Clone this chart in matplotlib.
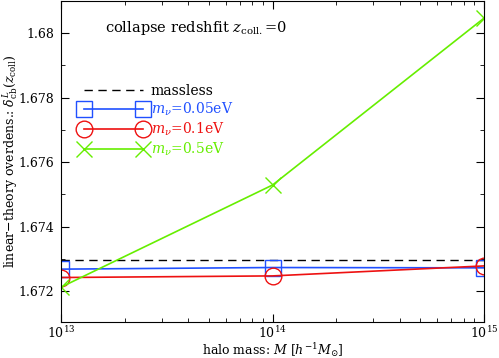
import matplotlib
matplotlib.use("Agg")
from matplotlib import pyplot as plt
from matplotlib.ticker import MultipleLocator, LogLocator, NullFormatter

plt.rcParams['font.family'] = ['DejaVu Serif']
plt.rcParams['mathtext.fontset'] = 'dejavuserif'

# halo masses [h^-1 Msun]
halo_mass = [1e13, 1e14, 1e15]

# linear-theory collapse threshold
massless = 1.67296
delta_005 = [1.67268, 1.67273, 1.67272]
delta_01 = [1.67242, 1.67247, 1.67278]
delta_05 = [1.67212, 1.67529, 1.68047]

fig = plt.figure(figsize=(4.99, 3.58), dpi=100)
ax = fig.add_axes([0.1222, 0.1006, 0.8478, 0.8974])

ax.axhline(massless, color="black", ls=(0, (6, 4)), lw=1.0, label="massless")
ax.plot(halo_mass, delta_005, color="#2050ff", lw=1.2, marker="s", ms=11,
        mfc="none", mew=1.0, label=r"$m_\nu$=0.05eV")
ax.plot(halo_mass, delta_01, color="#ee1111", lw=1.2, marker="o", ms=12,
        mfc="none", mew=1.0, label=r"$m_\nu$=0.1eV")
ax.plot(halo_mass, delta_05, color="#66ee00", lw=1.2, marker="x", ms=11,
        mew=1.0, label=r"$m_\nu$=0.5eV")

ax.set_xscale("log")
ax.set_xlim(1e13, 1e15)
ax.set_ylim(1.67104, 1.68101)
ax.yaxis.set_major_locator(MultipleLocator(0.002))
ax.yaxis.set_minor_locator(MultipleLocator(0.001))
ax.yaxis.set_major_formatter(plt.FuncFormatter(lambda v, p: ("%.3f" % v).rstrip("0")))
ax.xaxis.set_minor_locator(LogLocator(base=10, subs=range(2, 10)))
ax.xaxis.set_minor_formatter(NullFormatter())

ax.tick_params(which="both", direction="in", top=True, right=True, labelsize=9)
ax.tick_params(which="major", length=6)
ax.tick_params(which="minor", length=3)
ax.tick_params(axis="y", pad=5)
ax.tick_params(axis="x", pad=2)

ax.set_xlabel(r"halo mass: $M$ [$h^{-1}M_{\odot}$]", fontsize=9)
ax.xaxis.set_label_coords(0.5, -0.087)
ax.xaxis.label.set_va("center")
ax.set_ylabel(r"linear$-$theory overdens.: $\delta^{L}_{\rm cb}(z_{\rm coll})$",
              fontsize=9)
ax.yaxis.set_label_coords(-0.12, 0.5)
ax.yaxis.label.set_va("center")

ax.text(0.105, 0.915, r"collapse redshfit $z_{\rm coll.}$=0", transform=ax.transAxes,
        fontsize=10.5, va="center")

leg = ax.legend(loc="upper left", bbox_to_anchor=(0.045, 0.741), frameon=False,
                fontsize=10, handlelength=4.8, handletextpad=0.3, numpoints=2,
                labelspacing=0.2, borderaxespad=0, borderpad=0)
for txt, c in zip(leg.get_texts(), ["black", "#2050ff", "#ee1111", "#66ee00"]):
    txt.set_color(c)

fig.savefig("out.png", dpi=100)
